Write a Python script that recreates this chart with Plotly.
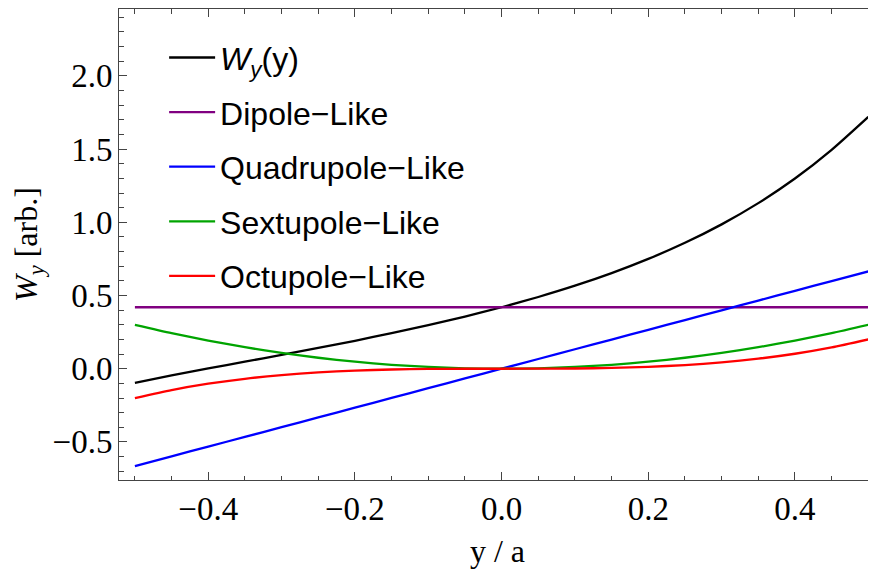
import plotly.graph_objects as go

# sampled positions y/a
y_pos = [-0.5, -0.45, -0.4, -0.35, -0.3, -0.25, -0.2, -0.15, -0.1, -0.05, 0.0,
         0.05, 0.1, 0.15, 0.2, 0.25, 0.3, 0.35, 0.4, 0.45, 0.5]

# values
w_total = [-0.096, -0.046, 0.002, 0.048, 0.095, 0.142, 0.191, 0.243, 0.298, 0.356, 0.420,
           0.490, 0.567, 0.653, 0.750, 0.860, 0.986, 1.131, 1.299, 1.495, 1.720]
dipole = [0.42] * 21
quadrupole = [-0.665, -0.5985, -0.532, -0.4655, -0.399, -0.3325, -0.266, -0.1995, -0.133, -0.0665, 0.0,
              0.0665, 0.133, 0.1995, 0.266, 0.3325, 0.399, 0.4655, 0.532, 0.5985, 0.665]
sextupole = [0.300, 0.243, 0.192, 0.147, 0.108, 0.075, 0.048, 0.027, 0.012, 0.003, 0.0,
             0.003, 0.012, 0.027, 0.048, 0.075, 0.108, 0.147, 0.192, 0.243, 0.300]
octupole = [-0.200, -0.1458, -0.1024, -0.0686, -0.0432, -0.025, -0.0128, -0.0054, -0.0016, -0.0002, 0.0,
            0.0002, 0.0016, 0.0054, 0.0128, 0.025, 0.0432, 0.0686, 0.1024, 0.1458, 0.200]

names = ["<i>W</i><sub><i>y</i></sub>(y)", "Dipole\u2212Like", "Quadrupole\u2212Like",
         "Sextupole\u2212Like", "Octupole\u2212Like"]
series = [w_total, dipole, quadrupole, sextupole, octupole]
colors = ["#000000", "#800080", "#0000ff", "#00a400", "#ff0000"]

x_ticks = [-0.4, -0.2, 0.0, 0.2, 0.4]
y_ticks = [-0.5, 0.0, 0.5, 1.0, 1.5, 2.0]

fig = go.Figure()
for i, (nm, vals, col) in enumerate(zip(names, series, colors)):
    fig.add_trace(go.Scatter(x=y_pos, y=vals, mode="lines", name=nm,
                             legendgroup=str(i),
                             line=dict(color=col, width=2.3, shape="spline", smoothing=0.6)))

serif = "Liberation Serif, Times New Roman, serif"
# the page body adds an 8 px offset, so the figure is sized to the remaining area
fig.update_layout(
    width=868, height=561,
    margin=dict(l=111, r=0, t=1, b=89),
    paper_bgcolor="white", plot_bgcolor="white",
    font=dict(family=serif, size=33, color="black"),
    showlegend=True,
    legend=dict(x=0.0596, y=0.955, xanchor="left", yanchor="top",
                font=dict(family="Liberation Sans, Arial, sans-serif", size=32, color="black"),
                bgcolor="rgba(0,0,0,0)", tracegroupgap=10, traceorder="grouped",
                itemwidth=46),
    xaxis=dict(range=[-0.5217, 0.5105], tickvals=x_ticks, tickformat=".1f",
               showline=True, linecolor="#444", linewidth=1, mirror="ticks",
               ticks="inside", ticklen=8, tickcolor="#444", tickwidth=1,
               minor=dict(dtick=0.05, ticks="inside", ticklen=4.5, tickcolor="#444", tickwidth=1),
               showgrid=False, zeroline=False, automargin=False,
               tickfont=dict(family=serif, size=33),
               ticklabelstandoff=-1,
               title=dict(text="y / a", font=dict(family=serif, size=32), standoff=15)),
    yaxis=dict(range=[-0.760, 2.457], tickvals=y_ticks, tickformat=".1f",
               showline=True, linecolor="#444", linewidth=1, mirror=False,
               ticks="inside", ticklen=8, tickcolor="#444", tickwidth=1,
               minor=dict(dtick=0.1, ticks="inside", ticklen=4.5, tickcolor="#444", tickwidth=1),
               showgrid=False, zeroline=False, automargin=False,
               tickfont=dict(family=serif, size=33),
               ticklabelstandoff=-1,
               title=dict(text="<i>W</i><sub><i>y</i></sub> [arb.]", font=dict(family=serif, size=32), standoff=8)),
)

fig.write_html("out.html")
